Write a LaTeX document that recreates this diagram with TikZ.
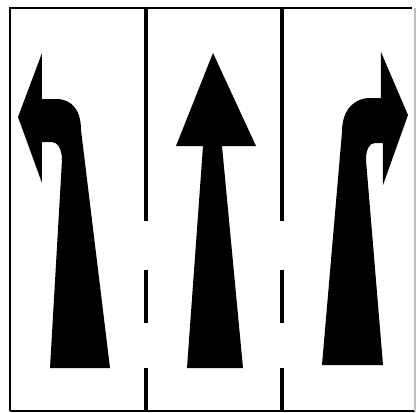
\documentclass[tikz,border=0pt]{standalone}
\usepackage{tikz}
\begin{document}
\begin{tikzpicture}[
  x=0.02cm,y=-0.02cm,
  frame/.style={line width=1.1pt},
  divider/.style={line width=2.2pt},
  sign/.style={fill=black}]
\useasboundingbox (0,0) rectangle (417,413);
% border
\draw[frame] (10,411) -- (10,8) -- (412,8);
\draw[frame] (10,411) -- (415,411);
\draw[frame,black!25] (415,8) -- (415,411);
% lane lines
\foreach \x in {146,282} {
  \draw[divider] (\x,8) -- (\x,221);
  \draw[divider] (\x,270) -- (\x,323);
  \draw[divider] (\x,368) -- (\x,411);
}
% left turn
\fill[sign] (18,117) -- (42,53) -- (42,99) -- (56,99)
  .. controls (72,99) and (81,110) .. (81,130) -- (110,368) -- (50,368)
  -- (62,160) .. controls (62,150) and (58,142) .. (52,142) -- (42,142)
  -- (42,183) -- cycle;
% straight on
\fill[sign] (213,53) -- (256,146) -- (222,146) -- (243,368) -- (187,368)
  -- (203,146) -- (176,146) -- cycle;
% right turn
\fill[sign] (408,115) -- (383,185) -- (383,143) -- (375,143)
  .. controls (369,143) and (366,150) .. (366,160) -- (383,365) -- (322,365)
  -- (342,132) .. controls (342,110) and (354,98) .. (370,98) -- (381,98)
  -- (381,52) -- cycle;
\end{tikzpicture}
\end{document}
